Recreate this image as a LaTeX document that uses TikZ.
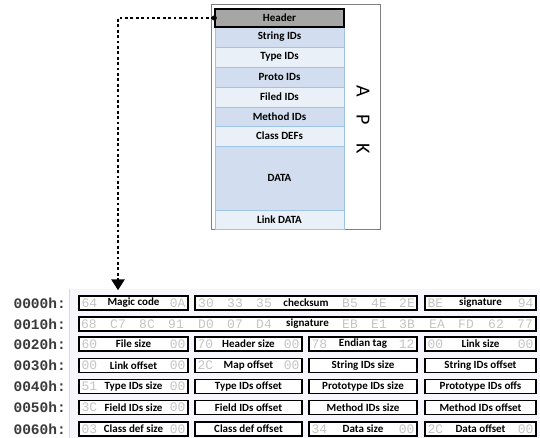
\documentclass[tikz,border=0pt]{standalone}
\usepackage{fontspec}
\setmainfont{Carlito}
\newfontfamily\hexfont{Liberation Mono}
\usetikzlibrary{arrows.meta}
\definecolor{seclight}{HTML}{EAF0F8}
\definecolor{secdark}{HTML}{D2DEEF}
\definecolor{secline}{HTML}{9DC3E6}
\definecolor{hdrgray}{HTML}{A6A6A6}
\definecolor{hexgray}{HTML}{C4C4C4}
\definecolor{addrcol}{HTML}{3A3A3A}
\definecolor{bglav}{HTML}{F6F6FC}
\newcommand\mkbox[7]{%
  \node[hbox, minimum width=#4pt] (#1) at (#2,#3) {};
  \node[hexs, anchor=west] (#1f) at ([xshift=3pt]#1.west) {#5};
  \node[hexs, anchor=east] (#1l) at ([xshift=-3pt]#1.east) {#6};
  \node[lbl] (#1t) at (#1.center) {#7};
}
\newcommand\mkboxplain[5]{%
  \node[hbox, minimum width=#4pt] (#1) at (#2,#3) {};
  \node[lbl] (#1t) at (#1.center) {#5};
}
\begin{document}
\begin{tikzpicture}[x=1pt,y=-1pt,
  sec/.style={draw=secline, line width=0.8pt, minimum width=129pt, inner sep=0pt,
    font=\bfseries\fontsize{11}{12}\selectfont},
  hbox/.style={draw=black, fill=white, line width=1.4pt, minimum height=14pt, inner sep=0pt},
  hexs/.style={font=\hexfont\fontsize{13}{13}\selectfont, text=hexgray, inner sep=0pt},
  lbl/.style={font=\bfseries\fontsize{11}{12}\selectfont, fill=white, inner sep=0.8pt},
  addr/.style={font=\hexfont\bfseries\fontsize{14.5}{15}\selectfont, text=addrcol, anchor=east, inner sep=0pt},
  dotline/.style={line width=2.8pt, dash pattern=on 2.8pt off 2.6pt, -{Triangle[width=13pt,length=11pt]}}
]
\useasboundingbox (0,0) rectangle (540,438);
% hex editor background
\fill[bglav] (69,289) rectangle (540,438);
\draw[gray!30, line width=0.6pt] (69,289) -- (69,438);

% APK structure
\node[draw=gray, line width=0.8pt, minimum width=169pt, minimum height=225pt, inner sep=0pt] (apk) at (295.5,116.5) {};
\node[sec, fill=secdark, minimum height=20pt] (strid) at (279.5,37) {String IDs};
\node[sec, fill=seclight, minimum height=20pt] (typeid) at (279.5,57) {Type IDs};
\node[sec, fill=secdark, minimum height=20pt] (protoid) at (279.5,77) {Proto IDs};
\node[sec, fill=seclight, minimum height=20pt] (filedid) at (279.5,97) {Filed IDs};
\node[sec, fill=secdark, minimum height=19pt] (methid) at (279.5,116.5) {Method IDs};
\node[sec, fill=seclight, minimum height=20pt] (classdef) at (279.5,136) {Class DEFs};
\node[sec, fill=secdark, minimum height=64pt] (data) at (279.5,178) {DATA};
\node[sec, fill=seclight, minimum height=19pt] (link) at (279.5,219.5) {Link DATA};
\node[sec, draw=black, line width=1.5pt, fill=hdrgray, minimum height=18pt] (hdr) at (279.5,18) {Header};
\node[rotate=-90, font=\fontsize{20}{20}\selectfont, inner sep=0pt] (apkt) at (363,119.5) {A\hspace{18pt}P\hspace{18pt}K};

% addresses
\node[addr] (a0) at (66,303) {0000h:};
\node[addr] (a1) at (66,324) {0010h:};
\node[addr] (a2) at (66,344) {0020h:};
\node[addr] (a3) at (66,365.5) {0030h:};
\node[addr] (a4) at (66,386.5) {0040h:};
\node[addr] (a5) at (66,407.5) {0050h:};
\node[addr] (a6) at (66,429) {0060h:};

% row 0
\mkbox{mc}{133.5}{303}{109}{64}{0A}{Magic code}
\node[hbox, minimum width=222pt] (cks) at (306,303) {};
\node[hexs] (cks1) at (206,303) {30};
\node[hexs] (cks2) at (235,303) {33};
\node[hexs] (cks3) at (264,303) {35};
\node[hexs] (cks4) at (350,303) {B5};
\node[hexs] (cks5) at (379,303) {4E};
\node[hexs] (cks6) at (407,303) {2E};
\node[lbl] (ckst) at (cks.center) {checksum};
\mkbox{sg0}{480.5}{303}{111}{BE}{94}{signature}
% row 1
\node[hbox, minimum width=457pt] (sg1) at (307.5,324) {};
\node[hexs] (h10) at (89,324) {68};
\node[hexs] (h11) at (118,324) {C7};
\node[hexs] (h12) at (147,324) {8C};
\node[hexs] (h13) at (176,324) {91};
\node[hexs] (h14) at (206,324) {D0};
\node[hexs] (h15) at (235,324) {07};
\node[hexs] (h16) at (264,324) {D4};
\node[hexs] (h19) at (350,324) {EB};
\node[hexs] (h1a) at (379,324) {E1};
\node[hexs] (h1b) at (407,324) {3B};
\node[hexs] (h1c) at (437,324) {EA};
\node[hexs] (h1d) at (466,324) {FD};
\node[hexs] (h1e) at (496,324) {62};
\node[hexs] (h1f) at (525,324) {77};
\node[lbl] (sg1t) at (sg1.center) {signature};
% row 2
\mkbox{fs}{133.5}{344}{109}{60}{00}{File size}
\mkbox{hs}{248.5}{344}{107}{70}{00}{Header size}
\mkbox{et}{363}{344}{108}{78}{12}{Endian tag}
\mkbox{ls}{480.5}{344}{111}{00}{00}{Link size}
% row 3
\mkbox{lo}{133.5}{365.5}{109}{00}{00}{Link offset}
\mkbox{mo}{248.5}{365.5}{107}{2C}{00}{Map offset}
\mkboxplain{ss}{363}{365.5}{108}{String IDs size}
\mkboxplain{so}{480.5}{365.5}{111}{String IDs offset}
% row 4
\mkbox{ts}{133.5}{386.5}{109}{51}{00}{Type IDs size}
\mkboxplain{to}{248.5}{386.5}{107}{Type IDs offset}
\mkboxplain{ps}{363}{386.5}{108}{Prototype IDs size}
\mkboxplain{po}{480.5}{386.5}{111}{Prototype IDs offs}
% row 5
\mkbox{fis}{133.5}{407.5}{109}{3C}{00}{Field IDs size}
\mkboxplain{fio}{248.5}{407.5}{107}{Field IDs offset}
\mkboxplain{ms}{363}{407.5}{108}{Method IDs size}
\mkboxplain{mso}{480.5}{407.5}{111}{Method IDs offset}
% row 6
\mkbox{cs}{133.5}{429}{109}{03}{00}{Class def size}
\mkboxplain{co}{248.5}{429}{107}{Class def offset}
\mkbox{ds}{363}{429}{108}{34}{00}{Data size}
\mkbox{dof}{480.5}{429}{111}{2C}{00}{Data offset}

% connector
\draw[dotline] (hdr.west) -| ([xshift=-15.5pt,yshift=5pt]mc.north);
\fill (hdr.west) circle (2.6pt);
\end{tikzpicture}
\end{document}
